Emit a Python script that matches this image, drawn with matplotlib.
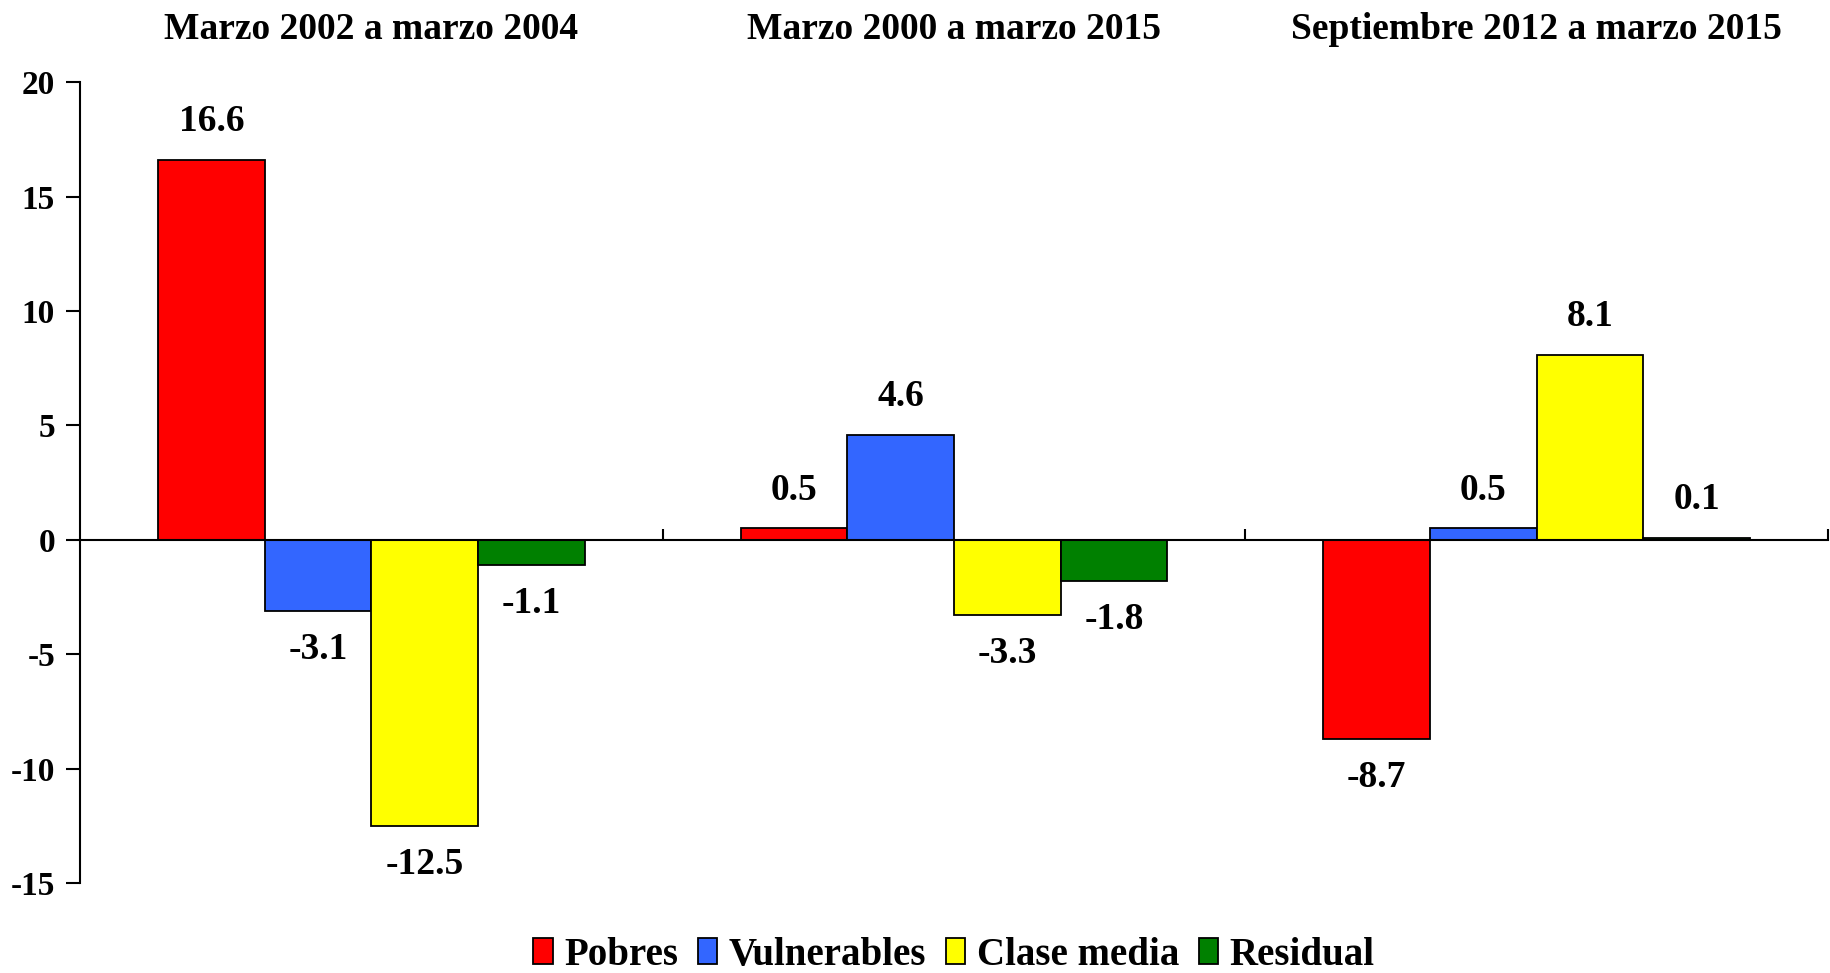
import numpy as np
import matplotlib.pyplot as plt

plt.rcParams['font.family'] = ['Liberation Serif', 'DejaVu Serif']
plt.rcParams['font.weight'] = 'bold'
plt.rcParams['axes.unicode_minus'] = False

periodos = ['Marzo 2002 a marzo 2004', 'Marzo 2000 a marzo 2015', 'Septiembre 2012 a marzo 2015']
series = ['Pobres', 'Vulnerables', 'Clase media', 'Residual']
colores = ['#FF0000', '#3366FF', '#FFFF00', '#008000']

pobres = [16.6, 0.5, -8.7]
vulnerables = [-3.1, 4.6, 0.5]
clase_media = [-12.5, -3.3, 8.1]
residual = [-1.1, -1.8, 0.1]
valores = [pobres, vulnerables, clase_media, residual]

fig = plt.figure(figsize=(18.31, 9.73), dpi=100)
ax = fig.add_axes([0.0437, 0.0925, 0.9547, 0.8229])

x = np.arange(len(periodos))
ancho = 0.183
for i, (nombre, vals, c) in enumerate(zip(series, valores, colores)):
    pos = x + (i - 1.5) * ancho
    ax.bar(pos, vals, ancho, color=c, edgecolor='black', linewidth=1.3, label=nombre, zorder=2)
    for px, v in zip(pos, vals):
        off = 15 if v >= 0 else -15
        va = 'bottom' if v >= 0 else 'top'
        ax.annotate(f'{v:.1f}', (px, v), xytext=(0, off), textcoords='offset points',
                    ha='center', va=va, fontsize=27, fontweight='bold')

for i, t in enumerate(periodos):
    ax.text(x[i], 1.066, t, transform=ax.get_xaxis_transform(), ha='center', va='center',
            fontsize=27, fontweight='bold')

ax.set_xlim(-0.5, 2.5)
ax.set_ylim(-15, 20)
ax.set_yticks([20, 15, 10, 5, 0, -5, -10, -15])
ax.set_xticks([0.5, 1.5, 2.5])
ax.set_xticklabels([])
ax.spines['top'].set_visible(False)
ax.spines['right'].set_visible(False)
ax.spines['bottom'].set_position(('data', 0))
ax.spines['bottom'].set_linewidth(1.5)
ax.spines['left'].set_linewidth(1.5)
ax.spines['bottom'].set_zorder(3)
ax.tick_params(axis='x', direction='in', length=8, width=1.5)
ax.tick_params(axis='y', direction='out', length=10, width=1.5, labelsize=24, pad=8)
for lbl in ax.get_yticklabels():
    lbl.set_fontweight('bold')

fig.legend(loc='lower center', bbox_to_anchor=(0.521, -0.037), ncol=4, frameon=False,
           prop={'size': 28, 'weight': 'bold'}, handlelength=0.5, handleheight=0.65,
           handletextpad=0.3, columnspacing=0.5)

fig.savefig('out.png', dpi=100)
